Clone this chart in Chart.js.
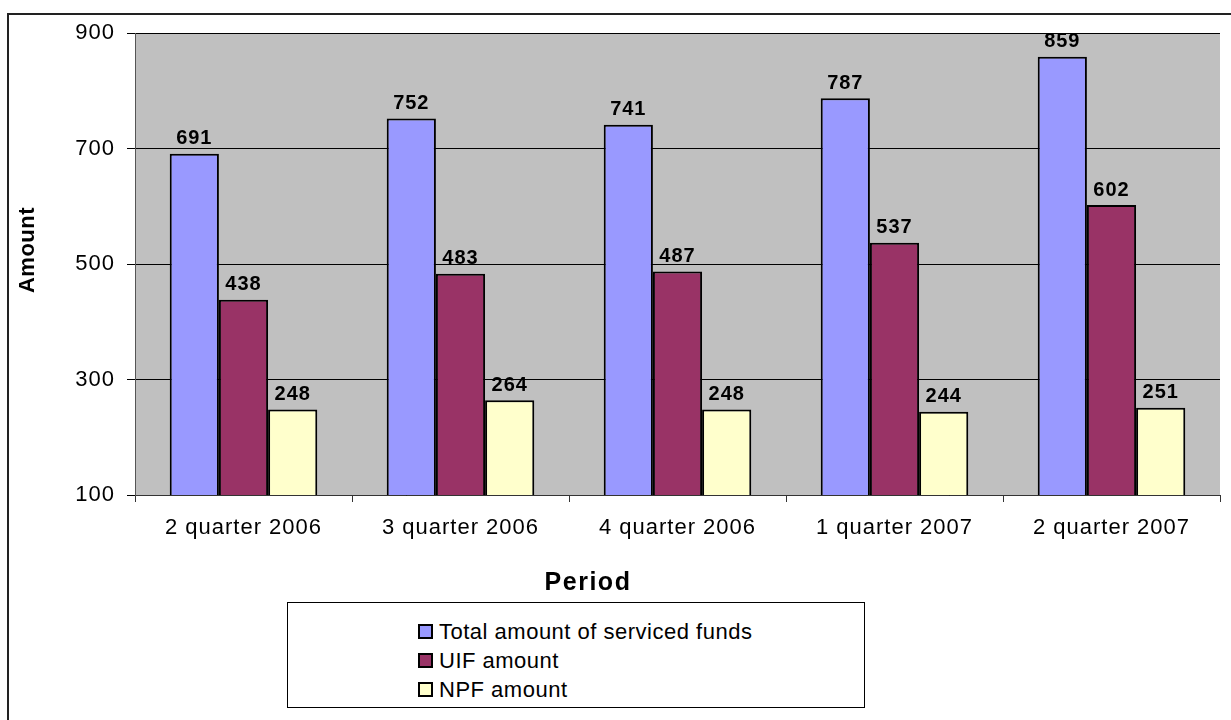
<!DOCTYPE html>
<html>
<head>
<meta charset="utf-8">
<script src="https://cdn.jsdelivr.net/npm/chart.js@4/dist/chart.umd.min.js"></script>
<style>
  body { margin: 0; background: #fff; font-family: "Liberation Sans", Arial, sans-serif; }
  #wrap { position: relative; width: 1231px; height: 720px; overflow: hidden; }
  #frame { position: absolute; left: 7px; top: 13px; width: 1260px; height: 760px; border: 2px solid #222; box-sizing: border-box; }
  #fundsChart { position: absolute; left: 0; top: 0; }
  #legend { position: absolute; left: 287px; top: 602px; width: 578px; height: 106px; border: 1px solid #000;
            box-sizing: border-box; background: #fff; padding: 14px 0 0 130px; }
  .item { display: flex; align-items: center; height: 29px; font-size: 22px; letter-spacing: 0.5px; color: #000; }
  .swatch { width: 11px; height: 11px; border: 2px solid #000; margin-right: 6px; }
</style>
</head>
<body>
<div id="wrap">
  <div id="frame"></div>
  <canvas id="fundsChart" width="1231" height="720"></canvas>
  <div id="legend"></div>
</div>
<script>
const periods = ['2 quarter 2006', '3 quarter 2006', '4 quarter 2006', '1 quarter 2007', '2 quarter 2007'];
const totalFunds = [691, 752, 741, 787, 859];
const uifAmount = [438, 483, 487, 537, 602];
const npfAmount = [248, 264, 248, 244, 251];
const seriesNames = ['Total amount of serviced funds', 'UIF amount', 'NPF amount'];
const seriesColors = ['#9999FF', '#993366', '#FFFFCC'];
const yTicks = [100, 300, 500, 700, 900];

const FONT = '"Liberation Sans", Arial, sans-serif';

// grey plot background, value labels and axis titles
const decorations = {
  id: 'decorations',
  beforeDraw(chart) {
    const { ctx, chartArea: a } = chart;
    ctx.save();
    ctx.fillStyle = '#C0C0C0';
    ctx.fillRect(a.left, a.top, a.right - a.left, a.bottom - a.top);
    ctx.restore();
    // slightly wider text for the tick labels
    ctx.letterSpacing = '1px';
  },
  afterDatasetsDraw(chart) {
    const { ctx } = chart;
    ctx.save();
    ctx.font = 'bold 20px ' + FONT;
    ctx.fillStyle = '#000';
    ctx.textAlign = 'center';
    ctx.textBaseline = 'bottom';
    chart.data.datasets.forEach((ds, i) => {
      chart.getDatasetMeta(i).data.forEach((bar, j) => {
        ctx.fillText(ds.data[j], bar.x, bar.y - 5);
      });
    });
    ctx.restore();
  },
  afterDraw(chart) {
    const { ctx } = chart;
    ctx.save();
    ctx.fillStyle = '#000';
    ctx.textAlign = 'center';
    ctx.textBaseline = 'middle';
    ctx.letterSpacing = '1.5px';
    ctx.font = 'bold 25px ' + FONT;
    ctx.fillText('Period', 588, 583);
    ctx.letterSpacing = '0.5px';
    ctx.font = 'bold 22px ' + FONT;
    ctx.translate(28, 250);
    ctx.rotate(-Math.PI / 2);
    ctx.fillText('Amount', 0, 0);
    ctx.restore();
  }
};

const chart = new Chart(document.getElementById('fundsChart'), {
  type: 'bar',
  data: {
    labels: periods,
    datasets: [totalFunds, uifAmount, npfAmount].map((values, i) => ({
      label: seriesNames[i],
      data: values,
      backgroundColor: seriesColors[i],
      borderColor: '#000',
      borderWidth: 2,
      borderSkipped: false,
      categoryPercentage: 0.68,
      barPercentage: 1
    }))
  },
  options: {
    responsive: false,
    devicePixelRatio: 1,
    animation: false,
    layout: { padding: { top: 33, right: 11, left: 0, bottom: 0 } },
    plugins: { legend: { display: false }, tooltip: { enabled: false } },
    scales: {
      x: {
        afterFit(scale) { scale.height = 225; },
        grid: { offset: true, drawOnChartArea: false, color: '#333', tickLength: 7 },
        border: { color: '#333' },
        ticks: { color: '#000', padding: 13, maxRotation: 0, font: { family: FONT, size: 22 } }
      },
      y: {
        min: 100,
        max: 900,
        afterFit(scale) { scale.width = 135; },
        afterBuildTicks(scale) { scale.ticks = yTicks.map(v => ({ value: v })); },
        grid: { color: '#000', tickLength: 8 },
        border: { color: '#555' },
        ticks: { color: '#000', padding: 12, font: { family: FONT, size: 22 } }
      }
    }
  },
  plugins: [decorations]
});

// legend box built from the same series
const legend = document.getElementById('legend');
seriesNames.forEach((name, i) => {
  const row = document.createElement('div');
  row.className = 'item';
  row.innerHTML = '<span class="swatch" style="background:' + seriesColors[i] + '"></span>' + name;
  legend.appendChild(row);
});
</script>
</body>
</html>
